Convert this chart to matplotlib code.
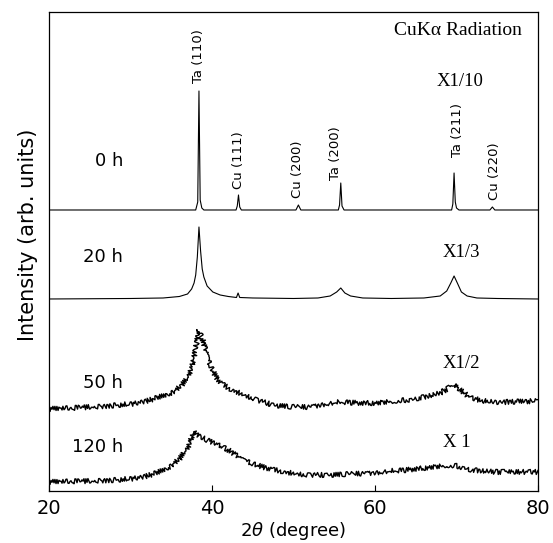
import matplotlib
matplotlib.use("Agg")
import matplotlib.pyplot as plt

# XRD traces: 2theta (deg) and height above each trace's baseline
tt_0h = [20, 38.0, 38.25, 38.4, 38.55, 38.75, 39.0, 42.95, 43.1, 43.25, 43.4, 43.6,
         50.3, 50.6, 50.9, 55.5, 55.65, 55.8, 55.95, 56.2, 69.4, 69.55, 69.7, 69.85,
         70.0, 70.3, 74.1, 74.4, 74.7, 80]
I_0h = [0, 0, 8, 119, 10, 2, 0, 0, 4, 15, 3, 0,
        0, 5, 0, 0, 5, 27, 4, 0, 0, 6, 37, 8,
        2, 0, 0, 3, 0, 0]

tt_20h = [20, 30, 34, 36, 37.0, 37.5, 37.8, 38.0, 38.2, 38.4, 38.6, 38.8, 39.0, 39.4,
          40.1, 41.0, 42.0, 43.0, 43.2, 43.4, 45, 50, 53, 54.5, 55.3, 55.8, 56.3, 57.0,
          58.5, 62, 66, 68, 68.8, 69.3, 69.7, 70.1, 70.6, 71.3, 72.5, 75, 80]
I_20h = [0, 0.5, 1, 2.5, 5, 10, 16, 24, 42, 72, 48, 30, 22, 13,
         7, 4, 2.5, 1.5, 6, 1.5, 1, 0.5, 1, 3, 7, 11, 6, 3,
         1, 0.5, 1, 3, 8, 16, 23, 16, 7, 3, 1, 0.5, 0]

tt_50h = [20, 23, 27, 30, 31.2, 33.2, 35.3, 36.3, 37.0, 37.6, 38.0, 38.4, 38.8, 39.3,
          39.8, 40.5, 41.0, 42, 43.4, 45.5, 47.5, 50, 52, 54, 55.7, 58, 60, 62, 64, 66,
          68, 69.7, 71.7, 74, 76, 80]
I_50h = [0, 1, 3, 5, 6, 11, 17, 24, 31, 44, 61, 79, 71, 57,
         43, 32, 27, 21, 16, 9, 4, 2, 2, 5, 7, 6, 6, 8, 9, 12,
         16, 24, 11, 7, 7, 8]

tt_120h = [20, 25, 28, 31.2, 33.2, 35, 36.1, 37.0, 37.8, 38.3, 39.4, 40.4, 41.4, 42.4,
           43.4, 45, 46.7, 49, 51.6, 54, 57, 59.8, 62, 63.9, 66, 68.8, 70, 72, 75, 80]
I_120h = [0, 1, 2, 4, 9, 16, 24, 34, 50, 46, 42, 38, 35, 30,
          24, 18, 14, 10, 7, 7, 8, 9, 11, 12, 14, 17, 16, 12, 10, 10]

# vertical stacking offsets of the four traces
offsets = [281, 192, 82, 9]
times = ["0 h", "20 h", "50 h", "120 h"]
scales = ["X1/10", "X1/3", "X1/2", "X 1"]

peak_names = ["Ta (110)", "Cu (111)", "Cu (200)", "Ta (200)", "Ta (211)", "Cu (220)"]
peak_pos = [38.3, 43.2, 50.55, 55.2, 70.1, 74.7]

fig = plt.figure(figsize=(5.53, 5.43), dpi=100)
ax = fig.add_axes([0.0886, 0.0958, 0.8843, 0.8821])

traces = [(tt_0h, I_0h), (tt_20h, I_20h), (tt_50h, I_50h), (tt_120h, I_120h)]
for i, (tt, inten) in enumerate(traces):
    ln, = ax.plot(tt, [v + offsets[i] for v in inten], color="black",
                  lw=0.8 if i < 2 else 1.0)
    if i >= 2:
        ln.set_sketch_params(scale=2.5, length=1.8, randomness=2.0)

# peak labels for the 0 h pattern
label_bottom = [408, 302, 293, 311, 334, 291]
for name, x, yb in zip(peak_names, peak_pos, label_bottom):
    ax.text(x, yb, name, rotation=90, ha="center", va="bottom", fontsize=9.5)

label_y = [330, 234, 108, 44]
for t, y in zip(times, label_y):
    ax.text(29.1, y, t, ha="right", va="center", fontsize=13)

scale_x = [67.6, 68.35, 68.35, 68.35]
scale_y = [409, 238, 127, 48]
for s, x, y in zip(scales, scale_x, scale_y):
    ax.text(x, y, s, ha="left", va="center", fontsize=13.5, family="Liberation Serif")

ax.text(78.0, 460, "CuK\u03b1 Radiation", ha="right", va="center", fontsize=14,
        family="Liberation Serif")

ax.set_xlim(20, 80)
ax.set_ylim(0, 479)
ax.set_xticks([20, 40, 60, 80])
ax.set_yticks([])
ax.tick_params(axis="x", direction="in", length=4, width=0.8, labelsize=14, pad=6)
ax.set_xlabel("2$\\theta$ (degree)", fontsize=13)
ax.xaxis.set_label_coords(0.5, -0.06)
ax.text(-0.043, 0.534, "Intensity (arb. units)", rotation=90, ha="center", va="center",
        fontsize=15, transform=ax.transAxes)
for sp in ax.spines.values():
    sp.set_linewidth(0.9)

fig.savefig("out.png", dpi=100)
